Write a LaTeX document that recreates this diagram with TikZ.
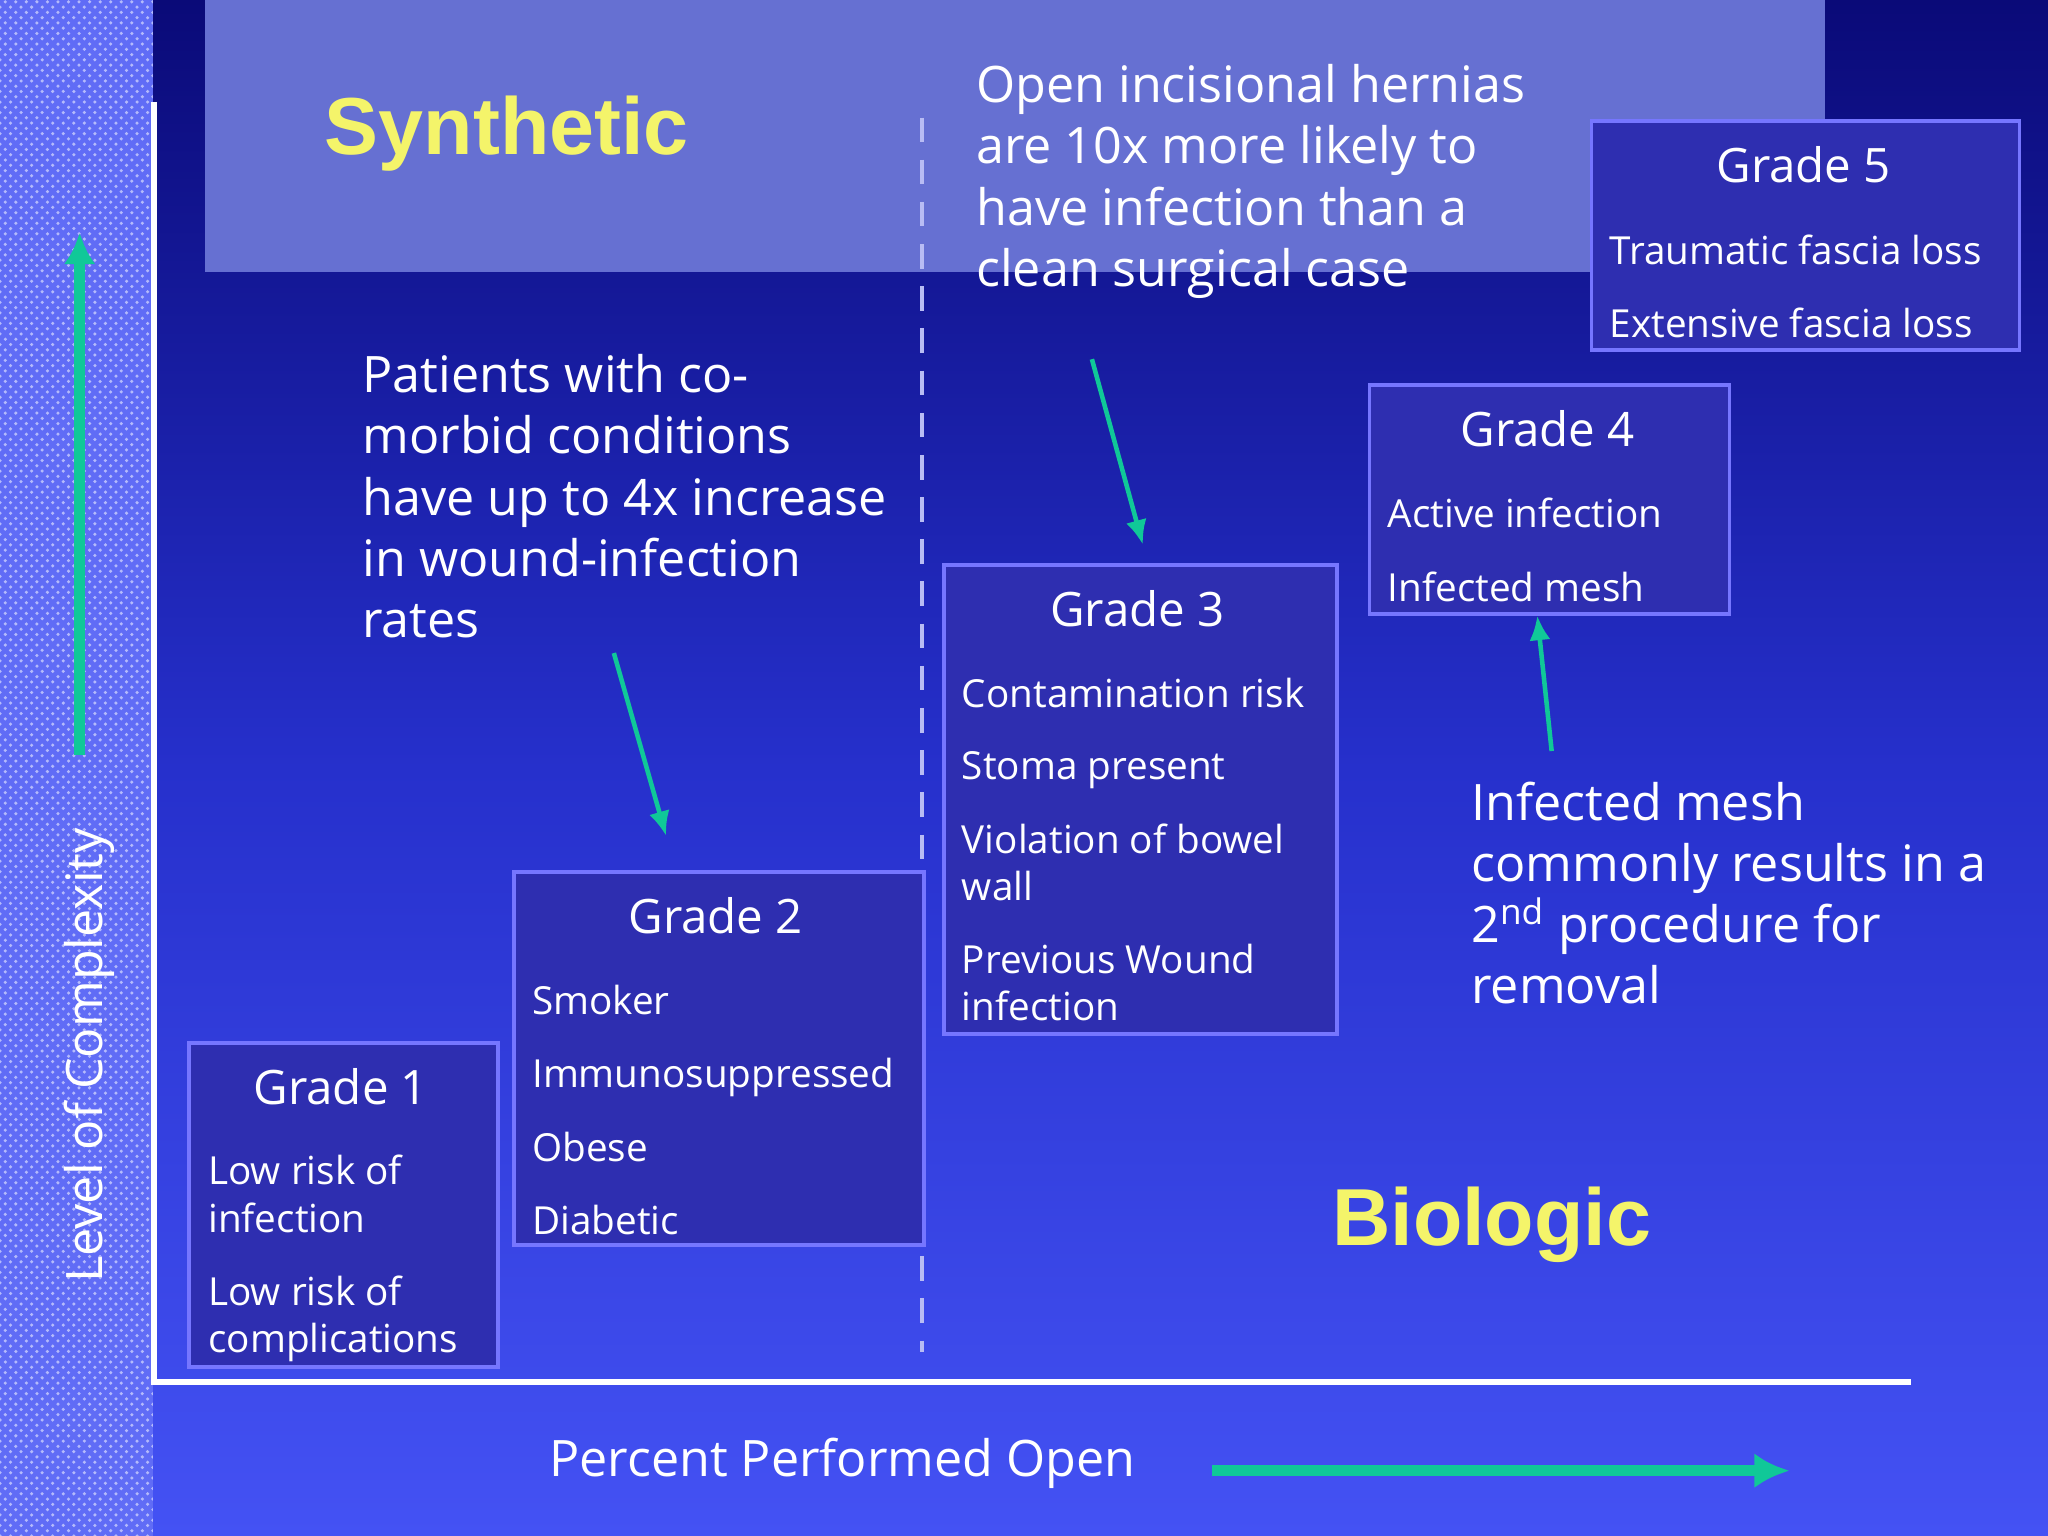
\documentclass[tikz,border=0pt]{standalone}
\usepackage{fontspec}
\setmainfont{Open Sans}
\newfontfamily\headfont{Liberation Sans}
\usetikzlibrary{arrows.meta, patterns}
\definecolor{navy}{HTML}{0A0A78}
\definecolor{midblue}{HTML}{2630CC}
\definecolor{lowblue}{HTML}{4452F4}
\definecolor{topband}{HTML}{6670D2}
\definecolor{boxfill}{HTML}{2E2EB0}
\definecolor{boxline}{HTML}{7676FF}
\definecolor{arrowgreen}{HTML}{10C898}
\definecolor{titleyellow}{HTML}{F4F46A}
\definecolor{dashcol}{HTML}{B8BCF4}
\begin{document}
\begin{tikzpicture}[x=0.01306cm, y=-0.01306cm,
    grade/.style={draw=boxline, line width=1.1pt, fill=boxfill, anchor=north west, inner sep=0pt},
    gtitle/.style={text=white, font=\fontsize{13.5}{16}\selectfont},
    item/.style={text=white, anchor=north west, align=left, font=\fontsize{11}{13.6}\selectfont},
    note/.style={text=white, anchor=north west, align=left, font=\fontsize{14.3}{17.4}\selectfont},
    green/.style={-{Latex[length=7pt,width=6pt]}, draw=arrowgreen, line width=1.3pt},
    bigarrow/.style={-{Latex[length=10pt,width=10pt]}, draw=arrowgreen, line width=3pt},
    headline/.style={text=titleyellow, font=\headfont\bfseries\fontsize{23}{26}\selectfont}
]
\useasboundingbox (0,0) rectangle (1568,1176);
% background
\shade[top color=navy, bottom color=lowblue, middle color=midblue] (0,0) rectangle (1568,1176);
\fill[lowblue!85!white] (0,0) rectangle (117,1176);
\fill[pattern=crosshatch dots, pattern color=white!60!lowblue] (0,0) rectangle (117,1176);
\fill[topband] (157,0) rectangle (1397,208);

% axes
\draw[white, line width=1.6pt] (118,78) -- (118,1058) -- (1463,1058);
\draw[dashcol, line width=1.3pt, dash pattern=on 7pt off 5pt] (706,90) -- (706,1035);

% axis labels
\coordinate (yA) at (61,578);
\coordinate (yB) at (61,178);
\draw[green, line width=3pt, -{Latex[length=9pt,width=9pt]}] (yA) -- (yB);
\node[text=white, rotate=90, font=\fontsize{14.3}{17}\selectfont] (ylab) at (68,808) {Level of Complexity};
\node[text=white, font=\fontsize{14.3}{17}\selectfont] (xlab) at (645,1120) {Percent Performed Open};
\coordinate (xA) at (928,1126);
\coordinate (xB) at (1370,1126);
\draw[bigarrow] (xA) -- (xB);

% headlines
\node[headline] (syn) at (388,102) {Synthetic};
\node[headline] (bio) at (1142,938) {Biologic};

% grade boxes
\node[grade, minimum width=237\pgflinewidth, minimum width=3.09cm, minimum height=3.24cm] (g1) at (143,797) {};
\node[gtitle] (g1t) at (261,832) {Grade 1};
\node[item] (g1a) at (150,875) {Low risk of\\infection};
\node[item] (g1b) at (150,967) {Low risk of\\complications};

\node[grade, minimum width=4.10cm, minimum height=3.73cm] (g2) at (392,666) {};
\node[gtitle] (g2t) at (548,701) {Grade 2};
\node[item] (g2a) at (398,745) {Smoker};
\node[item] (g2b) at (398,801) {Immunosuppressed};
\node[item] (g2c) at (398,857) {Obese};
\node[item] (g2d) at (398,913) {Diabetic};

\node[grade, minimum width=3.93cm, minimum height=4.69cm] (g3) at (721,431) {};
\node[gtitle] (g3t) at (871,466) {Grade 3};
\node[item] (g3a) at (727,510) {Contamination risk};
\node[item] (g3b) at (727,566) {Stoma present};
\node[item] (g3c) at (727,621) {Violation of bowel\\wall};
\node[item] (g3d) at (727,713) {Previous Wound\\infection};

\node[grade, minimum width=3.60cm, minimum height=2.29cm] (g4) at (1047,293) {};
\node[gtitle] (g4t) at (1185,328) {Grade 4};
\node[item] (g4a) at (1053,372) {Active infection};
\node[item] (g4b) at (1053,428) {Infected mesh};

\node[grade, minimum width=4.28cm, minimum height=2.29cm] (g5) at (1217,91) {};
\node[gtitle] (g5t) at (1381,126) {Grade 5};
\node[item] (g5a) at (1223,170) {Traumatic fascia loss};
\node[item] (g5b) at (1223,226) {Extensive fascia loss};

% notes
\node[note] (n1) at (268,262) {Patients with co-\\morbid conditions\\have up to 4x increase\\in wound-infection\\rates};
\node[note] (n2) at (738,40) {Open incisional hernias\\are 10x more likely to\\have infection than a\\clean surgical case};
\node[note] (n3) at (1117,589) {Infected mesh\\commonly results in a\\2\textsuperscript{nd} procedure for\\removal};

% pointers
\coordinate (p1) at (470,500);
\coordinate (p2) at (836,275);
\coordinate (p3) at (1188,575);
\draw[green] (p1) -- (510,640);
\draw[green] (p2) -- (875,417);
\draw[green] (p3) -- (g4.south -| 1177,0);
\end{tikzpicture}
\end{document}
